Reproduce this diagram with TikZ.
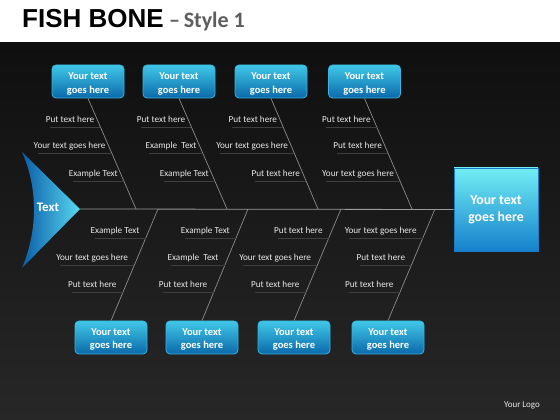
\documentclass[tikz,border=0pt]{standalone}
\usepackage{fontspec}
\setmainfont{Carlito}
\newfontfamily\titlefont{Liberation Sans}
\usetikzlibrary{calc}
\definecolor{bonecol}{HTML}{8C8C8C}
\definecolor{spinecol}{HTML}{9A9A9A}
\definecolor{ulinecol}{HTML}{3E3E3E}
\definecolor{lblcol}{HTML}{E8E8E8}
\definecolor{boxtop}{HTML}{40C8E8}
\definecolor{boxbot}{HTML}{0B69AA}
\definecolor{boxedge}{HTML}{36B6E0}
\definecolor{bigtop}{HTML}{72EEF4}
\definecolor{bigbot}{HTML}{1580CC}
\definecolor{bigedge}{HTML}{1A7CC6}
\definecolor{headdark}{HTML}{0A5DA6}
\definecolor{headlight}{HTML}{58D8F2}
\definecolor{bgtop}{HTML}{0F0F0F}
\definecolor{bgbot}{HTML}{272727}
\definecolor{subgray}{HTML}{5E5E5E}
\tikzset{
  catbox/.style={rectangle, rounded corners=4pt, draw=boxedge, line width=0.8pt,
    top color=boxtop, bottom color=boxbot, minimum width=72pt, minimum height=33pt,
    inner sep=0pt},
  cattext/.style={inner sep=0pt, align=center, text=white, font=\bfseries\fontsize{10.5}{13.5}\selectfont},
  bigbox/.style={rectangle, draw=bigedge, line width=0.8pt, top color=bigtop, bottom color=bigbot,
    minimum width=84pt, minimum height=83pt, inner sep=0pt, align=center, text=white,
    font=\bfseries\fontsize{13.8}{17}\selectfont},
  bone/.style={draw=bonecol, line width=0.7pt},
  spine/.style={draw=spinecol, line width=0.8pt},
  uline/.style={draw=ulinecol, line width=0.6pt},
  lbl/.style={inner sep=0pt, text=lblcol, font=\fontsize{9.2}{11}\selectfont}
}
\begin{document}
\begin{tikzpicture}[x=1pt,y=1pt]
\useasboundingbox (0,0) rectangle (560,420);
% background
\shade[top color=bgtop, bottom color=bgbot] (0,0) rectangle (560,378);
\fill[white] (0,378) rectangle (560,420);
% title
\node[anchor=base west, inner sep=0pt, font=\titlefont\bfseries\fontsize{26}{30}\selectfont, text=black] (title) at (22,392) {FISH BONE};
\node[anchor=base west, inner sep=0pt, font=\bfseries\fontsize{22}{26}\selectfont, text=subgray] (sub) at ([xshift=5pt]title.base east) {\textendash\,Style 1};
% head
\coordinate (tip) at (80,211);
\shade[left color=headdark, right color=headlight] (22,268) -- (tip) -- (22,152) .. controls (38,190) and (38,232) .. (22,268) -- cycle;
\node[inner sep=0pt, text=white, font=\bfseries\fontsize{13}{15}\selectfont] (head) at (48,213) {Text};
% effect box
\node[bigbox] (effect) at (496,210.5) {Your text\\goes here};
% spine
\draw[spine] (tip) -- (effect.west);
% top branches
\foreach \i/\bx/\sx/\la/\lb/\lc in {
  1/88/136/{Put text here}/{Your text goes here}/{Example Text},
  2/179/227/{Put text here}/{Example~ Text}/{Example Text},
  3/271/318/{Put text here}/{Your text goes here}/{Put text here},
  4/364.5/412/{Put text here}/{Put text here}/{Your text goes here}}{
  \node[catbox] (t\i) at (\bx,338.5) {};
  \node[cattext] (tt\i) at ([yshift=-2.5pt]t\i.center) {Your text\\goes here};
  \coordinate (ts\i) at (\sx,211);
  \draw[bone] (t\i.south) -- (ts\i);
  \foreach \f/\txt [count=\k] in {0.26/\la,0.495/\lb,0.75/\lc}{
    \coordinate (tp\i\k) at ($(t\i.south)!\f!(ts\i)$);
    \node[lbl, anchor=base east] (tl\i\k) at ([shift={(-6,5)}]tp\i\k) {\txt};
    \draw[uline] ([xshift=4pt]tl\i\k.west |- tp\i\k) -- (tp\i\k);
  }
}
% bottom branches
\foreach \i/\bx/\sx/\la/\lb/\lc in {
  1/111/158/{Example Text}/{Your text goes here}/{Put text here},
  2/202/248/{Example Text}/{Example~ Text}/{Put text here},
  3/294/341/{Put text here}/{Your text goes here}/{Put text here},
  4/388/435/{Your text goes here}/{Put text here}/{Put text here}}{
  \node[catbox] (b\i) at (\bx,82.5) {};
  \node[cattext] (bt\i) at ([yshift=-2pt]b\i.center) {Your text\\goes here};
  \coordinate (bs\i) at (\sx,211);
  \draw[bone] (bs\i) -- (b\i.north);
  \foreach \f/\txt [count=\k] in {0.26/\la,0.505/\lb,0.75/\lc}{
    \coordinate (bp\i\k) at ($(bs\i)!\f!(b\i.north)$);
    \node[lbl, anchor=base east] (bl\i\k) at ([shift={(-6,5)}]bp\i\k) {\txt};
    \draw[uline] ([xshift=4pt]bl\i\k.west |- bp\i\k) -- (bp\i\k);
  }
}
% logo
\node[inner sep=0pt, text=lblcol, font=\fontsize{9}{11}\selectfont] (logo) at (522,15) {Your Logo};
\end{tikzpicture}
\end{document}
